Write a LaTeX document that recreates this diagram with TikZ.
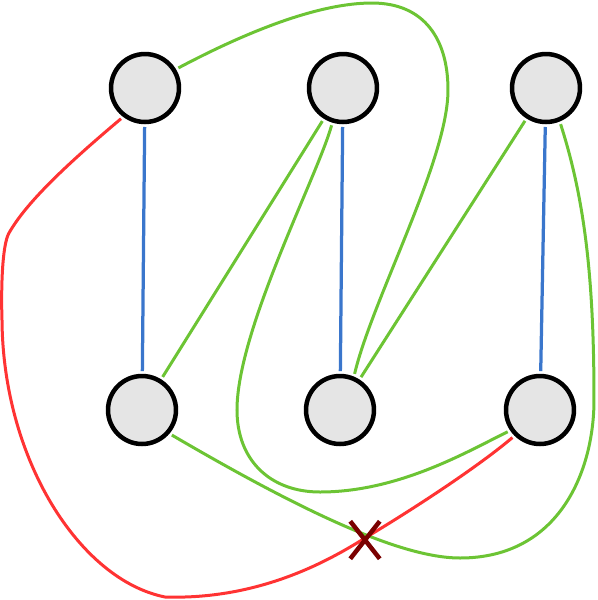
\documentclass[tikz,border=0pt]{standalone}
\usetikzlibrary{backgrounds,shapes.misc}
\definecolor{edgeblue}{RGB}{58,118,204}
\definecolor{edgegreen}{RGB}{108,196,52}
\definecolor{edgered}{RGB}{255,51,51}
\definecolor{markred}{RGB}{122,0,0}
\begin{document}
\begin{tikzpicture}[x=0.02cm,y=-0.02cm]
\tikzstyle{vertex} = [circle, draw=black, line width=0.09cm, fill=black!10,
minimum size=1.36cm, inner sep=0pt, outer sep=0.1cm]
\tikzstyle{blueline} = [draw=edgeblue, line width=0.065cm]
\tikzstyle{greenline} = [draw=edgegreen, line width=0.06cm]
\tikzstyle{redline} = [draw=edgered, line width=0.06cm]
\tikzstyle{crossmark} = [cross out, draw=markred, line width=0.09cm,
minimum width=0.5cm, minimum height=0.66cm, inner sep=0pt]
\useasboundingbox (0,0) rectangle (598,600);
% top row
\node [vertex] (t1) at (145,88) {};
\node [vertex] (t2) at (343,88) {};
\node [vertex] (t3) at (546,88) {};
% bottom row
\node [vertex] (b1) at (142,410) {};
\node [vertex] (b2) at (340,410) {};
\node [vertex] (b3) at (540,410) {};
\begin{scope}[on background layer]
\path[blueline] (t1) -- (b1);
\path[blueline] (t2) -- (b2);
\path[blueline] (t3) -- (b3);
\path[greenline] (t2) -- (b1);
\path[greenline] (t3) -- (b2);
\path[greenline] (t1.31) .. controls (250,30) and (320,3) .. (372,3)
.. controls (425,3) and (448,40) .. (448,90)
.. controls (448,160) and (372,300) .. (b2.68);
\path[greenline] (t2.253) .. controls (318,175) and (237,330) .. (237,410)
.. controls (237,460) and (270,492) .. (320,492)
.. controls (400,492) and (470,450) .. (b3.214);
\path[greenline] (b1.-40) .. controls (300,510) and (400,558) .. (460,558)
.. controls (560,558) and (594,470) .. (594,400)
.. controls (594,280) and (585,200) .. (t3.-68);
\path[redline] (t1.232) .. controls (60,170) and (25,205) .. (9,233)
.. controls (2,245) and (1,290) .. (2,320)
.. controls (3,460) and (80,580) .. (165,597)
.. controls (260,600) and (330,560) .. (365,538)
.. controls (420,505) and (480,465) .. (b3.225);
\end{scope}
\node [crossmark] (crossing) at (365,540) {};
\end{tikzpicture}
\end{document}
